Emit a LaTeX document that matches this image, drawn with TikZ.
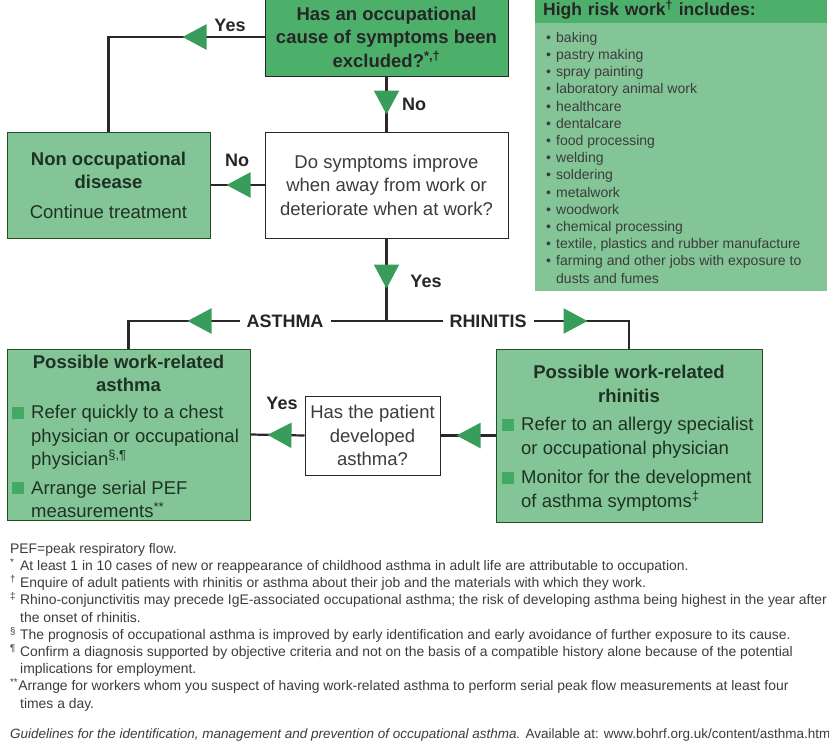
\documentclass[tikz,border=0pt]{standalone}
\usepackage{fontspec}
\setmainfont{Liberation Sans}
\usetikzlibrary{arrows.meta, decorations.markings, positioning}

\definecolor{darkgreen}{RGB}{77,176,106}
\definecolor{lightgreen}{RGB}{132,197,151}
\definecolor{arrowgreen}{RGB}{56,156,90}
\definecolor{squaregreen}{RGB}{66,170,100}
\definecolor{linegray}{RGB}{40,40,40}
\definecolor{textgray}{RGB}{60,60,60}
\definecolor{boxtext}{RGB}{30,50,36}

\newcommand{\boxfont}{\fontsize{18.5}{23.5}\selectfont}
\newcommand{\greensq}{\makebox[19pt][l]{\textcolor{squaregreen}{\rule{12pt}{12pt}}}}
\newcommand{\riskitem}{\makebox[10pt][l]{\textbullet}}
\newcommand{\fnmark}[1]{\makebox[10pt][l]{\textsuperscript{#1}}}

\tikzset{%
  ->-/.style={decoration={markings, mark=at position #1 with {\arrow[arrowgreen]{Triangle[length=24pt, width=25pt]}}},
              postaction={decorate}},
  flow/.style={draw=linegray, line width=2.2pt},
  darkbox/.style={draw=linegray, line width=1pt, fill=darkgreen, align=center, font=\bfseries\boxfont, text=black!85},
  whitebox/.style={draw=linegray, line width=1pt, fill=white, align=center, font=\boxfont, text=textgray},
  lightbox/.style={draw=linegray!80!green, line width=1pt, fill=lightgreen, align=center, font=\boxfont, text=boxtext},
  answer/.style={font=\bfseries\fontsize{18}{20}\selectfont, text=black!85, inner sep=1pt},
}

\begin{document}
\begin{tikzpicture}[x=1pt, y=-1pt]
    \useasboundingbox (0,0) rectangle (829,753);

    % high risk work panel
    \node[fill=lightgreen, minimum width=292pt, minimum height=296pt, anchor=north west, inner sep=0pt] (risk) at (535,-5) {};
    \node[fill=darkgreen, minimum width=292pt, minimum height=27pt, anchor=north west, text width=276pt, align=left,
          font=\bfseries\fontsize{17.5}{20}\selectfont, text=black!85] (riskhead) at (535,-4) {High risk work\textsuperscript{†} includes:};
    \node[anchor=north west, inner sep=0pt, align=left, font=\fontsize{14}{17.2}\selectfont, text=textgray] (risklist) at (546,32)
        {\riskitem baking\\ \riskitem pastry making\\ \riskitem spray painting\\ \riskitem laboratory animal work\\
         \riskitem healthcare\\ \riskitem dentalcare\\ \riskitem food processing\\ \riskitem welding\\
         \riskitem soldering\\ \riskitem metalwork\\ \riskitem woodwork\\ \riskitem chemical processing\\
         \riskitem textile, plastics and rubber manufacture\\ \riskitem farming and other jobs with exposure to\\
         \hspace*{10pt}dusts and fumes};

    % flow boxes
    \node[darkbox, minimum width=243pt, minimum height=78pt] (excluded) at (386.5,37)
        {Has an occupational\\cause of symptoms been\\excluded?\textsuperscript{*,†}};
    \node[whitebox, minimum width=243pt, minimum height=106pt] (improve) at (386.5,185)
        {Do symptoms improve\\when away from work or\\deteriorate when at work?};
    \node[lightbox, minimum width=203pt, minimum height=106pt] (nonocc) at (108.5,185)
        {\textbf{Non occupational}\\\textbf{disease}\\[6pt]Continue treatment};
    \node[whitebox, minimum width=135pt, minimum height=79pt] (patient) at (372.5,435.5)
        {Has the patient\\developed\\asthma?};

    \node[lightbox, minimum width=243pt, minimum height=171pt] (asthma) at (128.5,434.5) {};
    \node[font=\bfseries\boxfont, align=center, text=boxtext] (asthmahead) at (128.5,373.5) {Possible work-related\\asthma};
    \node[anchor=north west, inner sep=0pt, align=left, font=\boxfont, text=boxtext] (asthmalist) at (12,405)
        {\greensq Refer quickly to a chest\\ \hspace*{19pt}physician or occupational\\
         \hspace*{19pt}physician\textsuperscript{§,¶}\\[5pt]
         \greensq Arrange serial PEF\\ \hspace*{19pt}measurements\textsuperscript{**}};

    \node[lightbox, minimum width=266pt, minimum height=173pt] (rhinitis) at (629,435.5) {};
    \node[font=\bfseries\boxfont, align=center, text=boxtext] (rhinhead) at (629,384) {Possible work-related\\rhinitis};
    \node[anchor=north west, inner sep=0pt, align=left, font=\boxfont, text=boxtext] (rhinlist) at (502,417)
        {\greensq Refer to an allergy specialist\\ \hspace*{19pt}or occupational physician\\[6pt]
         \greensq Monitor for the development\\ \hspace*{19pt}of asthma symptoms\textsuperscript{‡}};

    % connectors
    \coordinate (split) at (386.5,321);
    \draw[flow, ->-=82pt] (excluded.west) -| (nonocc.north);
    \draw[flow, ->-=38pt] (excluded.south) -- (improve.north);
    \draw[flow, ->-=38pt] (improve.west) -- (nonocc.east);
    \draw[flow, ->-=50pt] (improve.south) -- (split);
    \draw[flow, ->-=199pt] (split) -| (asthma.north);
    \draw[flow, ->-=201pt] (split) -| (rhinitis.north);
    \draw[flow, ->-=37pt] (patient.west) -- (asthma.east);
    \draw[flow, ->-=39pt] (rhinitis.west) -- (patient.east);

    % answers on the lines
    \node[answer] (yesexcl) at (230,25) {Yes};
    \node[answer] (noexcl) at (414,104) {No};
    \node[answer] (noimpr) at (237,160) {No};
    \node[answer] (yesimpr) at (426,281) {Yes};
    \node[answer] (yespat) at (282,403) {Yes};
    \node[answer, fill=white, inner xsep=7pt] (asthmalbl) at (285,321) {ASTHMA};
    \node[answer, fill=white, inner xsep=7pt] (rhinlbl) at (488,321) {RHINITIS};

    % footnotes
    \node[anchor=north west, inner sep=0pt, align=left, font=\fontsize{13.9}{17.2}\selectfont, text=textgray] (notes) at (10,543)
        {PEF=peak respiratory flow.\\
         \fnmark{*}At least 1 in 10 cases of new or reappearance of childhood asthma in adult life are attributable to occupation.\\
         \fnmark{†}Enquire of adult patients with rhinitis or asthma about their job and the materials with which they work.\\
         \fnmark{‡}Rhino-conjunctivitis may precede IgE-associated occupational asthma; the risk of developing asthma being highest in the year after\\
         \hspace*{10pt}the onset of rhinitis.\\
         \fnmark{§}The prognosis of occupational asthma is improved by early identification and early avoidance of further exposure to its cause.\\
         \fnmark{¶}Confirm a diagnosis supported by objective criteria and not on the basis of a compatible history alone because of the potential\\
         \hspace*{10pt}implications for employment.\\
         \textsuperscript{**}Arrange for workers whom you suspect of having work-related asthma to perform serial peak flow measurements at least four\\
         \hspace*{10pt}times a day.};
    \node[anchor=west, inner sep=0pt, font=\fontsize{13.5}{15}\selectfont, text=textgray] (source) at (10,735)
        {\textit{Guidelines for the identification, management and prevention of occupational asthma.} Available at: www.bohrf.org.uk/content/asthma.htm};
\end{tikzpicture}
\end{document}
